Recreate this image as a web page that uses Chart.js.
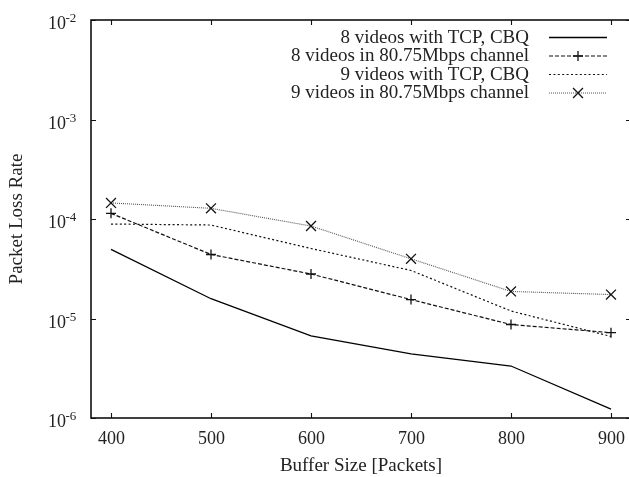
<!DOCTYPE html>
<html>
<head>
<meta charset="utf-8">
<script src="https://cdn.jsdelivr.net/npm/chart.js@4.4.1/dist/chart.umd.min.js"></script>
<style>
  html, body { margin: 0; padding: 0; background: #fff; overflow: hidden; }
  #wrap { width: 631px; height: 477px; }
</style>
</head>
<body>
<div id="wrap"><canvas id="c" width="631" height="477"></canvas></div>
<script>
// ---- data ----
const bufferSizes = [400, 500, 600, 700, 800, 900];
const tcp8 = [4.95e-5, 1.58e-5, 6.7e-6, 4.4e-6, 3.33e-6, 1.23e-6];
const ch8  = [1.14e-4, 4.4e-5, 2.8e-5, 1.55e-5, 8.7e-6, 7.2e-6];
const tcp9 = [8.9e-5, 8.7e-5, 5.05e-5, 3.04e-5, 1.19e-5, 6.6e-6];
const ch9  = [1.45e-4, 1.28e-4, 8.5e-5, 3.98e-5, 1.87e-5, 1.74e-5];
const seriesLabels = [
  '8 videos with TCP, CBQ',
  '8 videos in 80.75Mbps channel',
  '9 videos with TCP, CBQ',
  '9 videos in 80.75Mbps channel'
];
const xTickValues = [400, 500, 600, 700, 800, 900];
const yTickExponents = [-6, -5, -4, -3, -2];
const xTitle = 'Buffer Size [Packets]';
const yTitle = 'Packet Loss Rate';

const FONT = '"Liberation Serif", "Times New Roman", serif';
const TXT = '#222';

function pts(ys) { return bufferSizes.map((x, i) => ({ x: x, y: ys[i] })); }

const styles = [
  { color: '#000', dash: [], width: 1.3, point: false, pointRadius: 0 },
  { color: '#111', dash: [4, 2], width: 1.2, point: 'cross', pointRadius: 5 },
  { color: '#111', dash: [2, 2.4], width: 1.2, point: false, pointRadius: 0 },
  { color: '#555', dash: [1, 1], width: 1.1, point: 'crossRot', pointRadius: 7 }
];
const allData = [tcp8, ch8, tcp9, ch9];

const datasets = allData.map((d, i) => ({
  label: seriesLabels[i],
  data: pts(d),
  borderColor: styles[i].color,
  borderWidth: styles[i].width,
  borderDash: styles[i].dash,
  pointStyle: styles[i].point || 'circle',
  pointRadius: styles[i].pointRadius,
  pointBorderColor: '#111',
  pointBorderWidth: 1.3,
  pointBackgroundColor: 'transparent',
  fill: false,
  tension: 0
}));

const framePlugin = {
  id: 'framePlugin',
  afterDraw(chart) {
    const ctx = chart.ctx;
    const a = chart.chartArea;
    const xs = chart.scales.x, ys = chart.scales.y;
    ctx.save();
    ctx.strokeStyle = '#111';
    ctx.lineWidth = 1.6;
    ctx.setLineDash([]);
    ctx.strokeRect(a.left, a.top, a.right - a.left, a.bottom - a.top);
    ctx.lineWidth = 1.1;
    const tl = 5;
    xTickValues.forEach(v => {
      const px = Math.round(xs.getPixelForValue(v)) + 0.5;
      ctx.beginPath();
      ctx.moveTo(px, a.bottom); ctx.lineTo(px, a.bottom - tl);
      ctx.moveTo(px, a.top); ctx.lineTo(px, a.top + tl);
      ctx.stroke();
      ctx.fillStyle = TXT;
      ctx.font = '18px ' + FONT;
      ctx.textAlign = 'center';
      ctx.textBaseline = 'alphabetic';
      ctx.fillText(String(v), px, a.bottom + 26);
    });
    yTickExponents.forEach(e => {
      const py = Math.round(ys.getPixelForValue(Math.pow(10, e))) + 0.5;
      ctx.beginPath();
      ctx.moveTo(a.left, py); ctx.lineTo(a.left + tl, py);
      ctx.moveTo(a.right, py); ctx.lineTo(a.right - tl, py);
      ctx.stroke();
      // label 10^e
      ctx.fillStyle = TXT;
      ctx.textBaseline = 'alphabetic';
      ctx.textAlign = 'left';
      ctx.font = '18px ' + FONT;
      ctx.fillText('10', 48, py + 8.5);
      ctx.font = '13px ' + FONT;
      ctx.fillText(String(e), 65.5, py + 1.5);
    });
    // legend
    const textRight = 529, sx0 = 549, sx1 = 607;
    const rowY = [37, 55.5, 74, 92.5];
    chart.data.datasets.forEach((ds, i) => {
      const y = rowY[i];
      ctx.font = '19px ' + FONT;
      ctx.fillStyle = TXT;
      ctx.textAlign = 'right';
      ctx.textBaseline = 'middle';
      ctx.fillText(ds.label, textRight, y + 1);
      ctx.strokeStyle = ds.borderColor;
      ctx.lineWidth = ds.borderWidth;
      ctx.setLineDash(ds.borderDash);
      ctx.beginPath();
      ctx.moveTo(sx0, y + 0.5); ctx.lineTo(sx1, y + 0.5);
      ctx.stroke();
      ctx.setLineDash([]);
      if (ds.pointRadius > 0) {
        ctx.strokeStyle = '#111';
        ctx.lineWidth = 1.3;
        Chart.helpers.drawPoint(ctx, { pointStyle: ds.pointStyle, radius: ds.pointRadius, borderWidth: 1.3 }, (sx0 + sx1) / 2, y + 0.5);
      }
    });
    ctx.restore();
  }
};

new Chart(document.getElementById('c'), {
  type: 'line',
  data: { datasets: datasets },
  options: {
    responsive: false,
    animation: false,
    events: [],
    layout: { autoPadding: false, padding: { top: 20, right: 0, left: 0, bottom: 0 } },
    plugins: { legend: { display: false }, tooltip: { enabled: false } },
    scales: {
      x: {
        type: 'linear',
        min: 380, max: 920,
        afterBuildTicks: s => { s.ticks = xTickValues.map(v => ({ value: v })); },
        afterFit: s => { s.height = 59; },
        grid: { display: false, drawTicks: false },
        border: { display: false },
        ticks: { display: false },
        title: { display: true, text: xTitle, color: TXT, font: { family: FONT, size: 19 }, padding: { top: 0, bottom: 0 } }
      },
      y: {
        type: 'logarithmic',
        min: 1e-6, max: 1e-2,
        afterFit: s => { s.width = 91; },
        grid: { display: false, drawTicks: false },
        border: { display: false },
        ticks: { display: false },
        title: { display: true, text: yTitle, color: TXT, font: { family: FONT, size: 19 }, padding: { top: 6, bottom: 0 } }
      }
    }
  },
  plugins: [framePlugin]
});
</script>
</body>
</html>
